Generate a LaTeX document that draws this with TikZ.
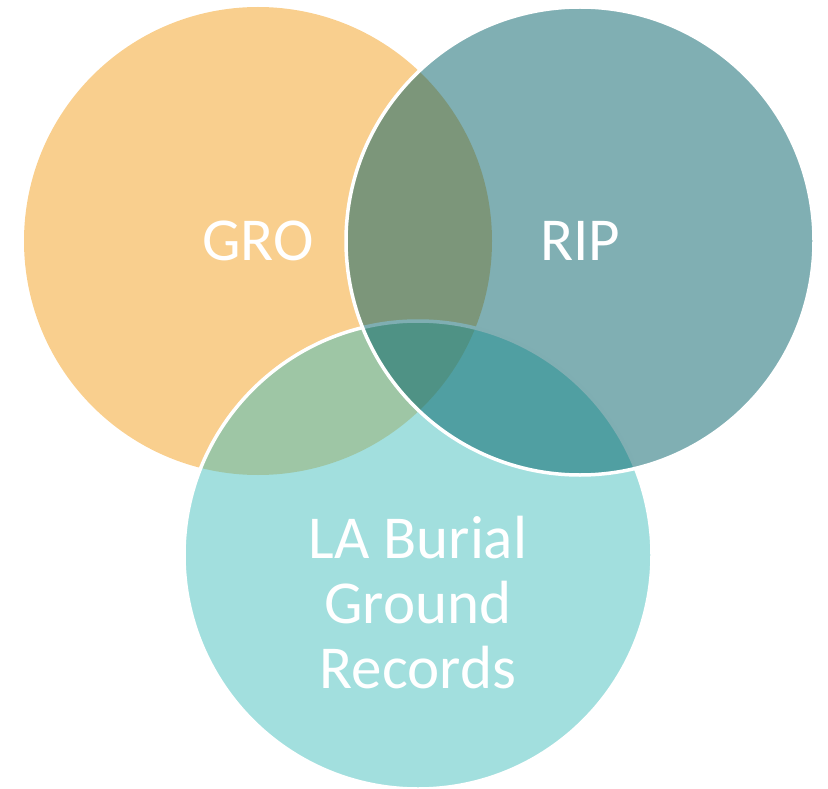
\documentclass[tikz,border=0pt]{standalone}
\usepackage{fontspec}
\setmainfont{Carlito}
\definecolor{groorange}{RGB}{249,207,142}
\definecolor{burialcyan}{RGB}{69,191,189}
\definecolor{ripteal}{RGB}{1,95,103}

\begin{document}
\begin{tikzpicture}[x=1pt,y=-1pt,
    venn/.style={circle, minimum size=468pt, inner sep=0pt},
    see through/.style={fill opacity=0.5, draw=white, line width=3.5pt},
    setname/.style={text=white, align=center, font=\fontsize{61}{65}\selectfont}]
    \useasboundingbox (0,0) rectangle (828,789);
    % the three sets, back to front
    \node[venn, fill=groorange] (gro) at (258,241) {};
    \node[venn, see through, fill=burialcyan] (burial) at (418,555) {};
    \node[venn, see through, fill=ripteal] (rip) at (580,241) {};
    % names
    \node[setname] (groname) at (gro.center) {GRO};
    \node[setname] (ripname) at (rip.center) {RIP};
    \node[setname] (burialname) at ([yshift=-48pt]burial.center) {LA Burial\\Ground\\Records};
\end{tikzpicture}
\end{document}
